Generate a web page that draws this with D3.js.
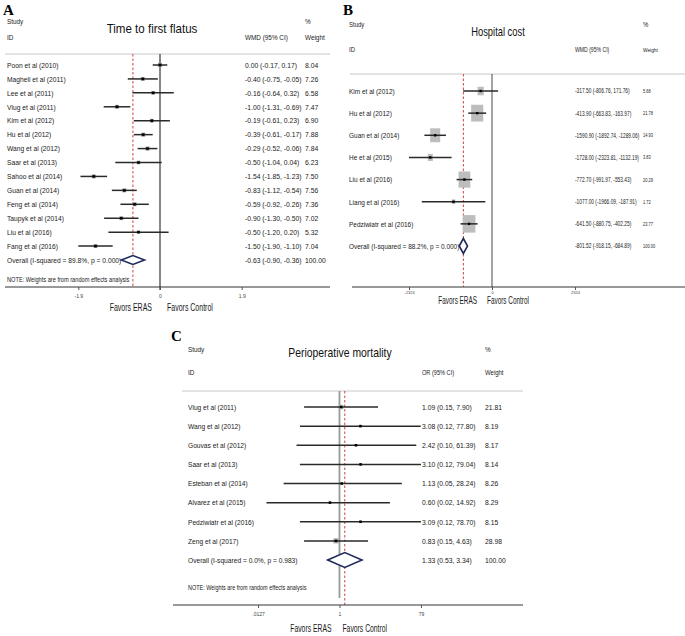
<!DOCTYPE html>
<html><head><meta charset="utf-8">
<script src="https://cdn.jsdelivr.net/npm/d3@7"></script>
<style>body{margin:0;background:#fff}svg{display:block}</style>
</head><body>
<script>
// ---------- Panel A: Time to first flatus (WMD) ----------
const studiesA = ["Poon et al (2010)","Magheli et al (2011)","Lee et al (2011)","Vlug et al (2011)","Kim et al (2012)","Hu et al (2012)","Wang et al (2012)","Saar et al (2013)","Sahoo et al (2014)","Guan et al (2014)","Feng et al (2014)","Taupyk et al (2014)","Liu et al (2016)","Fang et al (2016)"];
const estA = [0.00,-0.40,-0.16,-1.00,-0.19,-0.39,-0.29,-0.50,-1.54,-0.83,-0.59,-0.90,-0.50,-1.50];
const loA  = [-0.17,-0.75,-0.64,-1.31,-0.61,-0.61,-0.52,-1.04,-1.85,-1.12,-0.92,-1.30,-1.20,-1.90];
const hiA  = [0.17,-0.05,0.32,-0.69,0.23,-0.17,-0.06,0.04,-1.23,-0.54,-0.26,-0.50,0.20,-1.10];
const wA   = [8.04,7.26,6.58,7.47,6.90,7.88,7.84,6.23,7.50,7.56,7.36,7.02,5.32,7.04];
const overallA = {label:"Overall  (I-squared = 89.8%, p = 0.000)", est:-0.63, lo:-0.90, hi:-0.36, w:100};
const ticksA = [-1.9, 0, 1.9];
const tickLabelsA = ["-1.9","0","1.9"];

// ---------- Panel B: Hospital cost (WMD) ----------
const studiesB = ["Kim et al (2012)","Hu et al (2012)","Guan et al (2014)","He et al (2015)","Liu et al (2016)","Liang et al (2016)","Pedziwiatr et al (2016)"];
const estB = [-317.50,-413.90,-1590.90,-1728.00,-772.70,-1077.00,-641.50];
const loB  = [-806.76,-663.83,-1892.74,-2323.81,-991.97,-1966.09,-880.75];
const hiB  = [171.76,-163.97,-1289.06,-1132.19,-553.43,-187.91,-402.25];
const wB   = [5.68,21.78,14.93,3.83,20.29,1.72,23.77];
const overallB = {label:"Overall  (I-squared = 88.2%, p = 0.000)", est:-801.52, lo:-918.15, hi:-684.89, w:100};
const ticksB = [-2324, 0, 2324];
const tickLabelsB = ["-2324","0","2324"];

// ---------- Panel C: Perioperative mortality (OR) ----------
const studiesC = ["Vlug et al (2011)","Wang et al (2012)","Gouvas et al (2012)","Saar et al (2013)","Esteban et al (2014)","Alvarez et al (2015)","Pedziwiatr et al (2016)","Zeng et al (2017)"];
const estC = [1.09,3.08,2.42,3.10,1.13,0.60,3.09,0.83];
const loC  = [0.15,0.12,0.10,0.12,0.05,0.02,0.12,0.15];
const hiC  = [7.90,77.80,61.39,79.04,28.24,14.92,78.70,4.63];
const wC   = [21.81,8.19,8.17,8.14,8.26,8.29,8.15,28.98];
const overallC = {label:"Overall  (I-squared = 0.0%, p = 0.983)", est:1.33, lo:0.53, hi:3.34, w:100};
const ticksC = [0.0127, 1, 79];
const tickLabelsC = [".0127","1","79"];

const W = 685, H = 636;
const SANS = "'Liberation Sans',Arial,sans-serif";
const SERIF = "'Liberation Serif','Times New Roman',serif";
const NAVY = "#1f2a5c";
const loc = d3.formatLocale({decimal:".", thousands:",", grouping:[3], currency:["",""], minus:"-"});
const f2 = loc.format(".2f");

const svg = d3.select("body").append("svg").attr("width", W).attr("height", H);

function styleText(t, size, anchor, fam) {
  return t.attr("font-family", fam || SANS).attr("font-size", size).attr("fill", "#1a1a1a")
    .attr("text-anchor", anchor || "start");
}
function drawPanel(o) {
  const g = svg.append("g");
  const n = o.studies.length;
  const y = d3.scaleLinear().domain([0, n]).range([o.y0, o.yOverall]);
  const x = o.x;
  const txt = (xx, yy, s, size, sx, anchor, fam, mid) => {
    const t = g.append("text").attr("transform", `translate(${xx},${yy}) scale(${sx},1)`).text(s);
    if (mid) t.attr("dy", "0.35em");
    return styleText(t, size, anchor, fam);
  };
  txt(o.letterX, o.letterY, o.letter, 15, 1, "start", SERIF).attr("font-weight", "bold").attr("fill", "#000");
  txt(o.labelX, o.hdrY1, "Study", o.hdrSize, o.hdrSx);
  txt(o.labelX, o.hdrY2, "ID", o.hdrSize, o.hdrSx);
  txt(o.titleX, o.titleY, o.title, o.titleSize, o.titleSx, "middle").attr("fill", "#111");
  txt(o.wX, o.hdrY1, "%", o.hdrSize, o.hdrSx);
  txt(o.valX, o.hdrY2, o.measure, o.hdrSize, o.measSx);
  txt(o.wX, o.hdrY2, "Weight", o.wHdrSize, o.wHdrSx);
  g.append("line").attr("x1", o.sepX1).attr("x2", o.sepX2).attr("y1", o.sepY).attr("y2", o.sepY)
    .attr("stroke", "#c8c8c8").attr("stroke-width", 1);
  g.append("line").attr("x1", x(o.nullV)).attr("x2", x(o.nullV)).attr("y1", o.sepY).attr("y2", o.nullEnd)
    .attr("stroke", o.nullColor).attr("stroke-width", o.nullWidth);
  g.append("line").attr("x1", x(o.overall.est)).attr("x2", x(o.overall.est)).attr("y1", o.sepY).attr("y2", o.axisY)
    .attr("stroke", "#d04040").attr("stroke-width", 1).attr("stroke-dasharray", "2.5,2");
  const rows = d3.range(n).map(i => ({i, s:o.studies[i], e:o.est[i], lo:o.lo[i], hi:o.hi[i], w:o.w[i]}));
  const rg = g.selectAll("g.row").data(rows).join("g");
  rg.append("rect")
    .attr("x", d => x(d.e) - o.boxW * Math.sqrt(d.w) / 2)
    .attr("y", d => y(d.i) - o.boxH * Math.sqrt(d.w) / 2)
    .attr("width", d => o.boxW * Math.sqrt(d.w))
    .attr("height", d => o.boxH * Math.sqrt(d.w))
    .attr("fill", o.boxColor);
  rg.append("line").attr("x1", d => x(d.lo)).attr("x2", d => x(d.hi))
    .attr("y1", d => y(d.i)).attr("y2", d => y(d.i)).attr("stroke", "#2a2a2a").attr("stroke-width", 1.5);
  rg.append("rect").attr("x", d => x(d.e) - 1.2).attr("y", d => y(d.i) - 1.2)
    .attr("width", 2.4).attr("height", 2.4).attr("fill", "#000");
  styleText(rg.append("text").attr("transform", d => `translate(${o.labelX},${y(d.i)}) scale(${o.rowSx},1)`)
    .attr("dy", "0.35em").text(d => d.s), o.rowSize);
  styleText(rg.append("text").attr("transform", d => `translate(${o.valX},${y(d.i)}) scale(${o.valSx},1)`)
    .attr("dy", "0.35em").text(d => `${f2(d.e)} (${f2(d.lo)}, ${f2(d.hi)})`), o.valSize);
  styleText(rg.append("text").attr("transform", d => `translate(${o.wX},${y(d.i)}) scale(${o.wSx},1)`)
    .attr("dy", "0.35em").text(d => f2(d.w)), o.wSize);
  const ov = o.overall, yo = y(n);
  txt(o.labelX, yo, ov.label, o.rowSize, o.rowSx, "start", null, true);
  g.append("path").attr("d", `M${x(ov.lo)},${yo} L${x(ov.est)},${yo - o.diaH} L${x(ov.hi)},${yo} L${x(ov.est)},${yo + o.diaH} Z`)
    .attr("fill", "#fff").attr("stroke", NAVY).attr("stroke-width", 1.6);
  txt(o.valX, yo, `${f2(ov.est)} (${f2(ov.lo)}, ${f2(ov.hi)})`, o.valSize, o.valSx, "start", null, true);
  txt(o.wX, yo, f2(ov.w), o.wSize, o.wSx, "start", null, true);
  if (o.noteY) txt(o.labelX, o.noteY, "NOTE: Weights are from random effects analysis", o.noteSize, o.noteSx, "start", null, true);
  g.append("line").attr("x1", o.axX1).attr("x2", o.axX2).attr("y1", o.axisY).attr("y2", o.axisY)
    .attr("stroke", "#333").attr("stroke-width", 1);
  const axis = d3.axisBottom(x).tickValues(o.ticks).tickFormat((d, i) => o.tickLabels[i])
    .tickSize(3).tickPadding(o.tickPad).tickSizeOuter(0);
  const ag = g.append("g").attr("transform", `translate(0,${o.axisY})`).call(axis);
  ag.select(".domain").remove();
  ag.selectAll(".tick line").attr("stroke", "#555");
  ag.selectAll(".tick text").attr("font-family", SANS).attr("font-size", o.tickSize).attr("fill", "#444");
  txt(x(o.nullV) - o.favL, o.favY, "Favors ERAS", o.favSize, o.favSx, "end");
  txt(x(o.nullV) + o.favR, o.favY, "Favors Control", o.favSize, o.favSx, "start");
}

drawPanel({
  letter:"A", letterX:3, letterY:15,
  title:"Time to first flatus", titleX:152, titleY:33, titleSize:12.3, titleSx:0.94,
  measure:"WMD (95% CI)", hdrY1:24, hdrY2:40, hdrSize:7.5, hdrSx:0.85, measSx:0.85, wHdrSize:7.5, wHdrSx:0.85,
  labelX:7, valX:245, wX:305,
  studies:studiesA, est:estA, lo:loA, hi:hiA, w:wA, overall:overallA,
  x:d3.scaleLinear().domain([-1.9, 1.9]).range([78.3, 241.7]), nullV:0,
  y0:65, yOverall:260, sepY:54, sepX1:5, sepX2:330,
  nullColor:"#111", nullWidth:1, nullEnd:290,
  boxW:1.4, boxH:1.4, boxColor:"#888",
  rowSize:7.8, rowSx:0.86, valSize:7.8, valSx:0.87, wSize:7.8, wSx:0.87, diaH:4.5,
  noteY:280, noteSize:6.5, noteSx:0.87,
  axisY:287, axX1:5, axX2:330, ticks:ticksA, tickLabels:tickLabelsA, tickSize:5, tickPad:4,
  favY:311, favSize:10, favSx:0.7, favL:8, favR:7
});

drawPanel({
  letter:"B", letterX:343, letterY:15,
  title:"Hospital cost", titleX:498, titleY:36, titleSize:13, titleSx:0.72,
  measure:"WMD (95% CI)", hdrY1:27, hdrY2:52, hdrSize:7.5, hdrSx:0.8, measSx:0.68, wHdrSize:6, wHdrSx:0.8,
  labelX:349, valX:575, wX:643,
  studies:studiesB, est:estB, lo:loB, hi:hiB, w:wB, overall:overallB,
  x:d3.scaleLinear().domain([-2324, 2324]).range([409, 575]), nullV:0,
  y0:91, yOverall:246, sepY:74, sepX1:350, sepX2:685,
  nullColor:"#666", nullWidth:1.2, nullEnd:287,
  boxW:2.6, boxH:3.6, boxColor:"#bdbdbd",
  rowSize:8, rowSx:0.81, valSize:7, valSx:0.69, wSize:5.5, wSx:0.72, diaH:7.5,
  noteY:null,
  axisY:287, axX1:352, axX2:685, ticks:ticksB, tickLabels:tickLabelsB, tickSize:4, tickPad:1,
  favY:304, favSize:10, favSx:0.64, favL:15, favR:-5
});

drawPanel({
  letter:"C", letterX:171, letterY:341,
  title:"Perioperative mortality", titleX:340, titleY:357, titleSize:13, titleSx:0.8,
  measure:"OR (95% CI)", hdrY1:352, hdrY2:375, hdrSize:7.5, hdrSx:0.85, measSx:0.75, wHdrSize:7.5, wHdrSx:0.8,
  labelX:188, valX:422, wX:485,
  studies:studiesC, est:estC, lo:loC, hi:hiC, w:wC, overall:overallC,
  x:d3.scaleLog().domain([0.0127, 79]).range([258, 421]), nullV:1,
  y0:407, yOverall:560, sepY:391, sepX1:182, sepX2:523,
  nullColor:"#999", nullWidth:1.8, nullEnd:598,
  boxW:0.95, boxH:0.95, boxColor:"#aaa",
  rowSize:8, rowSx:0.83, valSize:8, valSx:0.85, wSize:8, wSx:0.85, diaH:7.5,
  noteY:588, noteSize:6.5, noteSx:0.84,
  axisY:605, axX1:173, axX2:523, ticks:ticksC, tickLabels:tickLabelsC, tickSize:5, tickPad:4,
  favY:632, favSize:10, favSx:0.68, favL:8, favR:3
});
</script>
</body></html>
